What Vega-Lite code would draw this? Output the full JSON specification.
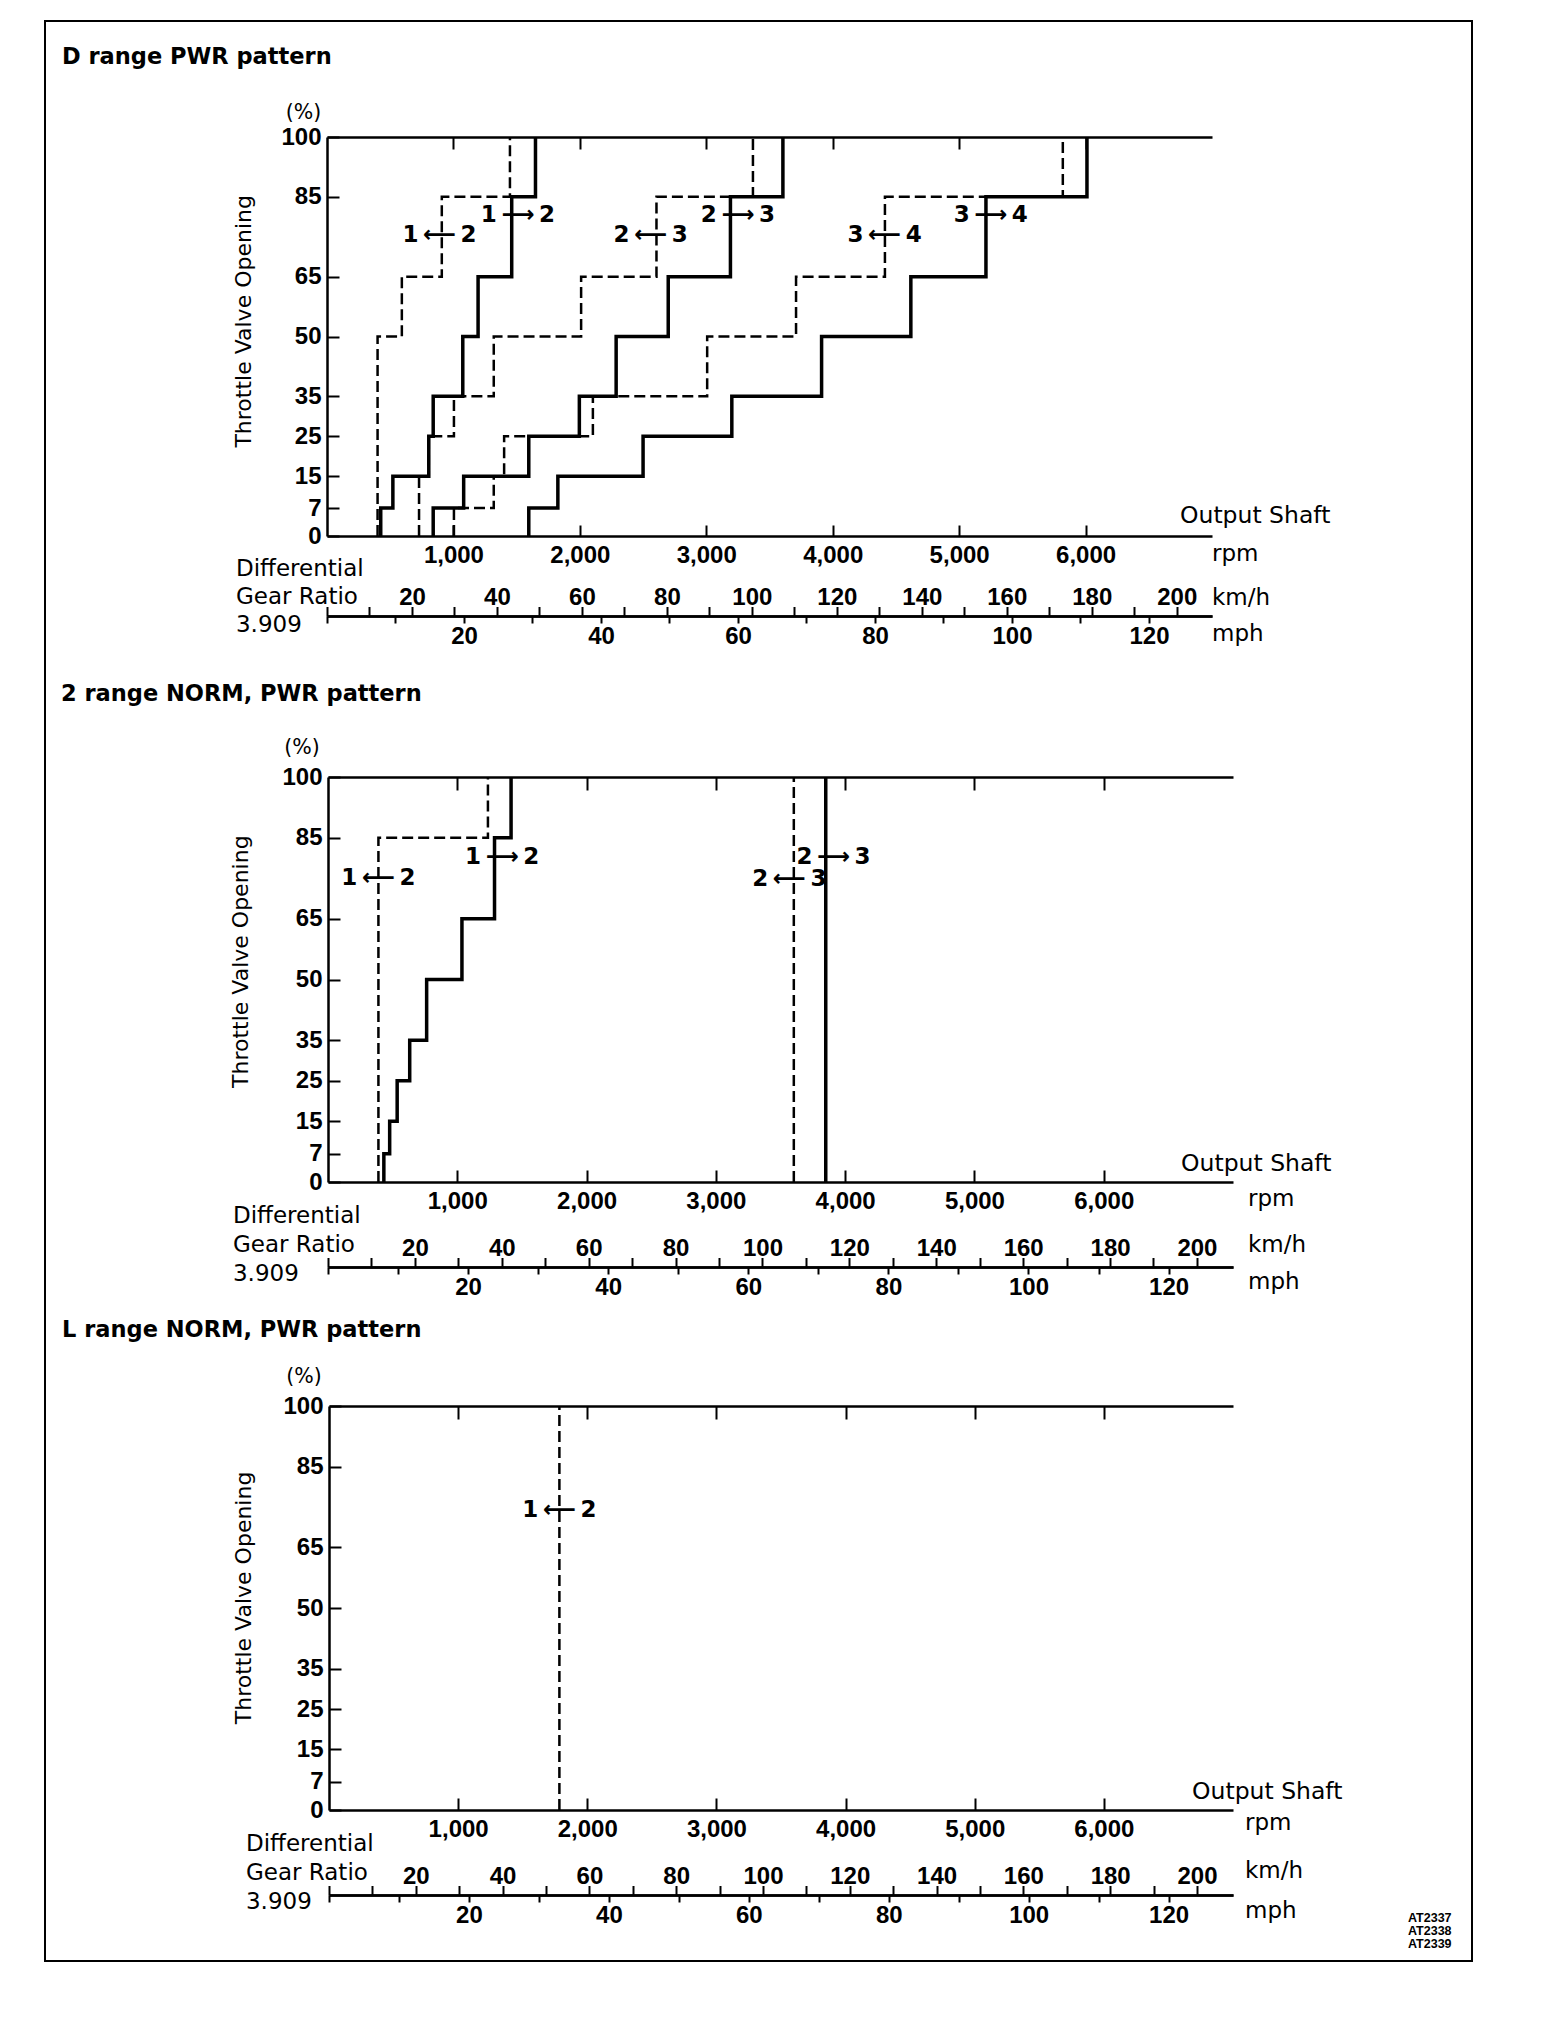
{
  "$schema": "https://vega.github.io/schema/vega-lite/v6.json",
  "width": 1427,
  "height": 1940,
  "autosize": "none",
  "padding": {"left": 45, "top": 21, "right": 96, "bottom": 57},
  "background": "white",
  "data": {"values": [{}]},
  "datasets": {
    "shifts": [
      {"panel": "D", "shift": "1-2", "kind": "up", "pct": 0, "rpm": 425},
      {"panel": "D", "shift": "1-2", "kind": "up", "pct": 7, "rpm": 521},
      {"panel": "D", "shift": "1-2", "kind": "up", "pct": 15, "rpm": 805},
      {"panel": "D", "shift": "1-2", "kind": "up", "pct": 25, "rpm": 840},
      {"panel": "D", "shift": "1-2", "kind": "up", "pct": 35, "rpm": 1074},
      {"panel": "D", "shift": "1-2", "kind": "up", "pct": 50, "rpm": 1195},
      {"panel": "D", "shift": "1-2", "kind": "up", "pct": 65, "rpm": 1461},
      {"panel": "D", "shift": "1-2", "kind": "up", "pct": 85, "rpm": 1649},
      {"panel": "D", "shift": "1-2", "kind": "up", "pct": 100, "rpm": 1649},
      {"panel": "D", "shift": "2-1", "kind": "down", "pct": 0, "rpm": 400},
      {"panel": "D", "shift": "2-1", "kind": "down", "pct": 50, "rpm": 592},
      {"panel": "D", "shift": "2-1", "kind": "down", "pct": 65, "rpm": 908},
      {"panel": "D", "shift": "2-1", "kind": "down", "pct": 85, "rpm": 1447},
      {"panel": "D", "shift": "2-1", "kind": "down", "pct": 100, "rpm": 1447},
      {"panel": "D", "shift": "2-3", "kind": "up", "pct": 0, "rpm": 840},
      {"panel": "D", "shift": "2-3", "kind": "up", "pct": 7, "rpm": 1081},
      {"panel": "D", "shift": "2-3", "kind": "up", "pct": 15, "rpm": 1596},
      {"panel": "D", "shift": "2-3", "kind": "up", "pct": 25, "rpm": 1996},
      {"panel": "D", "shift": "2-3", "kind": "up", "pct": 35, "rpm": 2287},
      {"panel": "D", "shift": "2-3", "kind": "up", "pct": 50, "rpm": 2699},
      {"panel": "D", "shift": "2-3", "kind": "up", "pct": 65, "rpm": 3191},
      {"panel": "D", "shift": "2-3", "kind": "up", "pct": 85, "rpm": 3606},
      {"panel": "D", "shift": "2-3", "kind": "up", "pct": 100, "rpm": 3606},
      {"panel": "D", "shift": "3-2", "kind": "down", "pct": 0, "rpm": 728},
      {"panel": "D", "shift": "3-2", "kind": "down", "pct": 15, "rpm": 805},
      {"panel": "D", "shift": "3-2", "kind": "down", "pct": 25, "rpm": 1004},
      {"panel": "D", "shift": "3-2", "kind": "down", "pct": 35, "rpm": 1319},
      {"panel": "D", "shift": "3-2", "kind": "down", "pct": 50, "rpm": 2010},
      {"panel": "D", "shift": "3-2", "kind": "down", "pct": 65, "rpm": 2606},
      {"panel": "D", "shift": "3-2", "kind": "down", "pct": 85, "rpm": 3369},
      {"panel": "D", "shift": "3-2", "kind": "down", "pct": 100, "rpm": 3369},
      {"panel": "D", "shift": "3-4", "kind": "up", "pct": 0, "rpm": 1596},
      {"panel": "D", "shift": "3-4", "kind": "up", "pct": 7, "rpm": 1826},
      {"panel": "D", "shift": "3-4", "kind": "up", "pct": 15, "rpm": 2500},
      {"panel": "D", "shift": "3-4", "kind": "up", "pct": 25, "rpm": 3202},
      {"panel": "D", "shift": "3-4", "kind": "up", "pct": 35, "rpm": 3912},
      {"panel": "D", "shift": "3-4", "kind": "up", "pct": 50, "rpm": 4618},
      {"panel": "D", "shift": "3-4", "kind": "up", "pct": 65, "rpm": 5212},
      {"panel": "D", "shift": "3-4", "kind": "up", "pct": 85, "rpm": 6011},
      {"panel": "D", "shift": "3-4", "kind": "up", "pct": 100, "rpm": 6011},
      {"panel": "D", "shift": "4-3", "kind": "down", "pct": 0, "rpm": 1004},
      {"panel": "D", "shift": "4-3", "kind": "down", "pct": 7, "rpm": 1319},
      {"panel": "D", "shift": "4-3", "kind": "down", "pct": 15, "rpm": 1401},
      {"panel": "D", "shift": "4-3", "kind": "down", "pct": 25, "rpm": 2103},
      {"panel": "D", "shift": "4-3", "kind": "down", "pct": 35, "rpm": 3007},
      {"panel": "D", "shift": "4-3", "kind": "down", "pct": 50, "rpm": 3710},
      {"panel": "D", "shift": "4-3", "kind": "down", "pct": 65, "rpm": 4413},
      {"panel": "D", "shift": "4-3", "kind": "down", "pct": 85, "rpm": 5820},
      {"panel": "D", "shift": "4-3", "kind": "down", "pct": 100, "rpm": 5820},
      {"panel": "2", "shift": "1-2", "kind": "up", "pct": 0, "rpm": 432},
      {"panel": "2", "shift": "1-2", "kind": "up", "pct": 7, "rpm": 477},
      {"panel": "2", "shift": "1-2", "kind": "up", "pct": 15, "rpm": 535},
      {"panel": "2", "shift": "1-2", "kind": "up", "pct": 25, "rpm": 632},
      {"panel": "2", "shift": "1-2", "kind": "up", "pct": 35, "rpm": 763},
      {"panel": "2", "shift": "1-2", "kind": "up", "pct": 50, "rpm": 1036},
      {"panel": "2", "shift": "1-2", "kind": "up", "pct": 65, "rpm": 1288},
      {"panel": "2", "shift": "1-2", "kind": "up", "pct": 85, "rpm": 1416},
      {"panel": "2", "shift": "1-2", "kind": "up", "pct": 100, "rpm": 1416},
      {"panel": "2", "shift": "2-1", "kind": "down", "pct": 0, "rpm": 390},
      {"panel": "2", "shift": "2-1", "kind": "down", "pct": 85, "rpm": 1237},
      {"panel": "2", "shift": "2-1", "kind": "down", "pct": 100, "rpm": 1237},
      {"panel": "2", "shift": "2-3", "kind": "up", "pct": 0, "rpm": 3850},
      {"panel": "2", "shift": "2-3", "kind": "up", "pct": 100, "rpm": 3850},
      {"panel": "2", "shift": "3-2", "kind": "down", "pct": 0, "rpm": 3603},
      {"panel": "2", "shift": "3-2", "kind": "down", "pct": 100, "rpm": 3603},
      {"panel": "L", "shift": "2-1", "kind": "down", "pct": 0, "rpm": 1784},
      {"panel": "L", "shift": "2-1", "kind": "down", "pct": 100, "rpm": 1784}
    ],
    "shiftLabels": [
      {"panel": "D", "label": "1\u2009⟶\u20092", "rpm": 1510, "pct": 80.4},
      {"panel": "D", "label": "1\u2009⟵\u20092", "rpm": 890, "pct": 75.4},
      {"panel": "D", "label": "2\u2009⟶\u20093", "rpm": 3250, "pct": 80.4},
      {"panel": "D", "label": "2\u2009⟵\u20093", "rpm": 2560, "pct": 75.4},
      {"panel": "D", "label": "3\u2009⟶\u20094", "rpm": 5250, "pct": 80.4},
      {"panel": "D", "label": "3\u2009⟵\u20094", "rpm": 4410, "pct": 75.4},
      {"panel": "2", "label": "1\u2009⟶\u20092", "rpm": 1347, "pct": 80.3},
      {"panel": "2", "label": "1\u2009⟵\u20092", "rpm": 390, "pct": 75},
      {"panel": "2", "label": "2\u2009⟶\u20093", "rpm": 3910, "pct": 80.2},
      {"panel": "2", "label": "2\u2009⟵\u20093", "rpm": 3568, "pct": 74.7},
      {"panel": "L", "label": "1\u2009⟵\u20092", "rpm": 1784, "pct": 74.2}
    ]
  },
  "config": {
    "view": {"stroke": "#000", "strokeWidth": 2},
    "axis": {
      "grid": false,
      "domainColor": "#000",
      "domainWidth": 2.5,
      "tickColor": "#000",
      "tickWidth": 2,
      "labelColor": "#000",
      "labelFont": "Liberation Sans",
      "labelFontWeight": "bold",
      "labelFontSize": 24,
      "labelOverlap": false,
      "labelFlush": false,
      "labelBound": false
    },
    "text": {"color": "#000", "font": "DejaVu Sans", "fontSize": 23}
  },
  "layer": [
    {
      "layer": [
        {
          "layer": [
            {
              "data": {"name": "shifts"},
              "transform": [{"filter": "datum.panel === 'D' && datum.kind === 'up'"}],
              "mark": {"type": "line", "interpolate": "step-before", "color": "#000", "strokeWidth": 3.5, "strokeJoin": "miter"},
              "encoding": {
                "x": {"field": "rpm", "type": "quantitative", "scale": {"domain": [0, 7000], "range": [282, 1167], "nice": false, "zero": false},
                  "axis": {"orient": "bottom", "offset": -1425, "values": [1000, 2000, 3000, 4000, 5000, 6000], "format": ",d", "tickSize": -11, "labelPadding": 18, "labelBaseline": "top", "title": null}},
                "y": {"field": "pct", "type": "quantitative", "scale": {"domain": [0, 100], "range": [515, 116], "nice": false, "zero": false},
                  "axis": {"orient": "left", "offset": -282, "values": [0, 7, 15, 25, 35, 50, 65, 85, 100], "tickSize": -12, "labelPadding": 18, "labelBaseline": "middle", "title": null}},
                "detail": {"field": "shift", "type": "nominal"},
                "order": {"field": "pct", "type": "quantitative"}
              }
            },
            {
              "data": {"name": "shifts"},
              "transform": [{"filter": "datum.panel === 'D' && datum.kind === 'down'"}],
              "mark": {"type": "line", "interpolate": "step-before", "color": "#000", "strokeWidth": 2.5, "strokeDash": [11, 5], "strokeJoin": "miter"},
              "encoding": {
                "x": {"field": "rpm", "type": "quantitative"},
                "y": {"field": "pct", "type": "quantitative"},
                "detail": {"field": "shift", "type": "nominal"},
                "order": {"field": "pct", "type": "quantitative"}
              }
            },
            {
              "data": {"name": "shiftLabels"},
              "transform": [{"filter": "datum.panel === 'D'"}],
              "mark": {"type": "text", "font": "DejaVu Sans", "fontWeight": "bold", "fontSize": 23, "align": "center", "baseline": "middle"},
              "encoding": {"x": {"field": "rpm", "type": "quantitative"}, "y": {"field": "pct", "type": "quantitative"}, "text": {"field": "label", "type": "nominal"}}
            },
            {"mark": {"type": "text", "text": "D range PWR pattern", "font": "DejaVu Sans", "fontWeight": "bold", "fontSize": 22.5, "align": "left", "baseline": "middle"},
             "encoding": {"x": {"datum": -2096, "type": "quantitative"}, "y": {"datum": 120.05, "type": "quantitative"}}},
            {"mark": {"type": "text", "text": "(%)", "fontSize": 20.5, "align": "center", "baseline": "middle"},
             "encoding": {"x": {"datum": -186, "type": "quantitative"}, "y": {"datum": 106, "type": "quantitative"}}},
            {"mark": {"type": "text", "text": "Throttle Valve Opening", "fontSize": 22, "angle": 270, "align": "center", "baseline": "middle"},
             "encoding": {"x": {"datum": -660, "type": "quantitative"}, "y": {"datum": 53.8, "type": "quantitative"}}},
            {"mark": {"type": "text", "text": "Output Shaft", "fontSize": 23.5, "align": "left", "baseline": "middle"},
             "encoding": {"x": {"datum": 6747, "type": "quantitative"}, "y": {"datum": 5.1, "type": "quantitative"}}},
            {"mark": {"type": "text", "text": "rpm", "align": "left", "baseline": "middle"},
             "encoding": {"x": {"datum": 7000, "type": "quantitative"}, "y": {"datum": -4.6, "type": "quantitative"}}},
            {"mark": {"type": "text", "text": "km/h", "align": "left", "baseline": "middle"},
             "encoding": {"x": {"datum": 7000, "type": "quantitative"}, "y": {"datum": -15.5, "type": "quantitative"}}},
            {"mark": {"type": "text", "text": "mph", "align": "left", "baseline": "middle"},
             "encoding": {"x": {"datum": 7000, "type": "quantitative"}, "y": {"datum": -24.6, "type": "quantitative"}}},
            {"mark": {"type": "text", "text": ["Differential", "Gear Ratio", "3.909"], "align": "left", "baseline": "top", "lineHeight": 28},
             "encoding": {"x": {"datum": -720, "type": "quantitative"}, "y": {"datum": -5.4, "type": "quantitative"}}}
          ]
        },
        {
          "mark": {"type": "point", "opacity": 0},
          "encoding": {"x": {"datum": 0, "type": "quantitative", "scale": {"domain": [0, 7000], "range": [282, 1167], "nice": false, "zero": false},
            "axis": {"orient": "top", "offset": -116, "values": [1000, 2000, 3000, 4000, 5000, 6000], "tickSize": -12, "labels": false, "title": null}}}
        },
        {
          "mark": {"type": "point", "opacity": 0},
          "encoding": {"x": {"datum": 0, "type": "quantitative", "scale": {"domain": [0, 208.3], "range": [282, 1167], "nice": false, "zero": false},
            "axis": {"orient": "bottom", "offset": -1345, "values": [0, 10, 20, 30, 40, 50, 60, 70, 80, 90, 100, 110, 120, 130, 140, 150, 160, 170, 180, 190, 200], "tickSize": -9.5, "labelPadding": -2, "labelBaseline": "alphabetic", "labelExpr": "datum.value > 0 && datum.value % 20 === 0 ? datum.label : ''", "title": null}}}
        },
        {
          "mark": {"type": "point", "opacity": 0},
          "encoding": {"x": {"datum": 0, "type": "quantitative", "scale": {"domain": [0, 129.2], "range": [282, 1167], "nice": false, "zero": false},
            "axis": {"orient": "bottom", "offset": -1345, "values": [0, 10, 20, 30, 40, 50, 60, 70, 80, 90, 100, 110, 120], "tickSize": 7, "labelPadding": 1, "labelBaseline": "top", "labelExpr": "datum.value > 0 && datum.value % 20 === 0 ? datum.label : ''", "title": null}}}
        }
      ],
      "resolve": {"scale": {"x": "independent"}, "axis": {"x": "independent"}}
    },
    {
      "layer": [
        {
          "layer": [
            {
              "data": {"name": "shifts"},
              "transform": [{"filter": "datum.panel === '2' && datum.kind === 'up'"}],
              "mark": {"type": "line", "interpolate": "step-before", "color": "#000", "strokeWidth": 3.5, "strokeJoin": "miter"},
              "encoding": {
                "x": {"field": "rpm", "type": "quantitative", "scale": {"domain": [0, 7000], "range": [283, 1188], "nice": false, "zero": false},
                  "axis": {"orient": "bottom", "offset": -779, "values": [1000, 2000, 3000, 4000, 5000, 6000], "format": ",d", "tickSize": -12, "labelPadding": 19, "labelBaseline": "top", "title": null}},
                "y": {"field": "pct", "type": "quantitative", "scale": {"domain": [0, 100], "range": [1161, 756], "nice": false, "zero": false},
                  "axis": {"orient": "left", "offset": -283, "values": [0, 7, 15, 25, 35, 50, 65, 85, 100], "tickSize": -12, "labelPadding": 18, "labelBaseline": "middle", "title": null}},
                "detail": {"field": "shift", "type": "nominal"},
                "order": {"field": "pct", "type": "quantitative"}
              }
            },
            {
              "data": {"name": "shifts"},
              "transform": [{"filter": "datum.panel === '2' && datum.kind === 'down'"}],
              "mark": {"type": "line", "interpolate": "step-before", "color": "#000", "strokeWidth": 2.5, "strokeDash": [11, 5], "strokeJoin": "miter"},
              "encoding": {
                "x": {"field": "rpm", "type": "quantitative"},
                "y": {"field": "pct", "type": "quantitative"},
                "detail": {"field": "shift", "type": "nominal"},
                "order": {"field": "pct", "type": "quantitative"}
              }
            },
            {
              "data": {"name": "shiftLabels"},
              "transform": [{"filter": "datum.panel === '2'"}],
              "mark": {"type": "text", "font": "DejaVu Sans", "fontWeight": "bold", "fontSize": 23, "align": "center", "baseline": "middle"},
              "encoding": {"x": {"field": "rpm", "type": "quantitative"}, "y": {"field": "pct", "type": "quantitative"}, "text": {"field": "label", "type": "nominal"}}
            },
            {"mark": {"type": "text", "text": "2 range NORM, PWR pattern", "font": "DejaVu Sans", "fontWeight": "bold", "fontSize": 22.5, "align": "left", "baseline": "middle"},
             "encoding": {"x": {"datum": -2065, "type": "quantitative"}, "y": {"datum": 120.5, "type": "quantitative"}}},
            {"mark": {"type": "text", "text": "(%)", "fontSize": 20.5, "align": "center", "baseline": "middle"},
             "encoding": {"x": {"datum": -201, "type": "quantitative"}, "y": {"datum": 107.2, "type": "quantitative"}}},
            {"mark": {"type": "text", "text": "Throttle Valve Opening", "fontSize": 22, "angle": 270, "align": "center", "baseline": "middle"},
             "encoding": {"x": {"datum": -675, "type": "quantitative"}, "y": {"datum": 54.4, "type": "quantitative"}}},
            {"mark": {"type": "text", "text": "Output Shaft", "fontSize": 23.5, "align": "left", "baseline": "middle"},
             "encoding": {"x": {"datum": 6598, "type": "quantitative"}, "y": {"datum": 4.4, "type": "quantitative"}}},
            {"mark": {"type": "text", "text": "rpm", "align": "left", "baseline": "middle"},
             "encoding": {"x": {"datum": 7116, "type": "quantitative"}, "y": {"datum": -4.2, "type": "quantitative"}}},
            {"mark": {"type": "text", "text": "km/h", "align": "left", "baseline": "middle"},
             "encoding": {"x": {"datum": 7116, "type": "quantitative"}, "y": {"datum": -15.6, "type": "quantitative"}}},
            {"mark": {"type": "text", "text": "mph", "align": "left", "baseline": "middle"},
             "encoding": {"x": {"datum": 7116, "type": "quantitative"}, "y": {"datum": -24.8, "type": "quantitative"}}},
            {"mark": {"type": "text", "text": ["Differential", "Gear Ratio", "3.909"], "align": "left", "baseline": "top", "lineHeight": 29},
             "encoding": {"x": {"datum": -735, "type": "quantitative"}, "y": {"datum": -5.6, "type": "quantitative"}}}
          ]
        },
        {
          "mark": {"type": "point", "opacity": 0},
          "encoding": {"x": {"datum": 0, "type": "quantitative", "scale": {"domain": [0, 7000], "range": [283, 1188], "nice": false, "zero": false},
            "axis": {"orient": "top", "offset": -756, "values": [1000, 2000, 3000, 4000, 5000, 6000], "tickSize": -13, "labels": false, "title": null}}}
        },
        {
          "mark": {"type": "point", "opacity": 0},
          "encoding": {"x": {"datum": 0, "type": "quantitative", "scale": {"domain": [0, 208.3], "range": [283, 1188], "nice": false, "zero": false},
            "axis": {"orient": "bottom", "offset": -694, "values": [0, 10, 20, 30, 40, 50, 60, 70, 80, 90, 100, 110, 120, 130, 140, 150, 160, 170, 180, 190, 200], "tickSize": -9.5, "labelPadding": -2, "labelBaseline": "alphabetic", "labelExpr": "datum.value > 0 && datum.value % 20 === 0 ? datum.label : ''", "title": null}}}
        },
        {
          "mark": {"type": "point", "opacity": 0},
          "encoding": {"x": {"datum": 0, "type": "quantitative", "scale": {"domain": [0, 129.2], "range": [283, 1188], "nice": false, "zero": false},
            "axis": {"orient": "bottom", "offset": -694, "values": [0, 10, 20, 30, 40, 50, 60, 70, 80, 90, 100, 110, 120], "tickSize": 7, "labelPadding": 1, "labelBaseline": "top", "labelExpr": "datum.value > 0 && datum.value % 20 === 0 ? datum.label : ''", "title": null}}}
        }
      ],
      "resolve": {"scale": {"x": "independent"}, "axis": {"x": "independent"}}
    },
    {
      "layer": [
        {
          "layer": [
            {
              "data": {"name": "shifts"},
              "transform": [{"filter": "datum.panel === 'L'"}],
              "mark": {"type": "line", "interpolate": "step-before", "color": "#000", "strokeWidth": 2.5, "strokeDash": [11, 5], "strokeJoin": "miter"},
              "encoding": {
                "x": {"field": "rpm", "type": "quantitative", "scale": {"domain": [0, 7000], "range": [284, 1188], "nice": false, "zero": false},
                  "axis": {"orient": "bottom", "offset": -151, "values": [1000, 2000, 3000, 4000, 5000, 6000], "format": ",d", "tickSize": -12, "labelPadding": 19, "labelBaseline": "top", "title": null}},
                "y": {"field": "pct", "type": "quantitative", "scale": {"domain": [0, 100], "range": [1789, 1385], "nice": false, "zero": false},
                  "axis": {"orient": "left", "offset": -284, "values": [0, 7, 15, 25, 35, 50, 65, 85, 100], "tickSize": -12, "labelPadding": 18, "labelBaseline": "middle", "title": null}},
                "detail": {"field": "shift", "type": "nominal"},
                "order": {"field": "pct", "type": "quantitative"}
              }
            },
            {
              "data": {"name": "shiftLabels"},
              "transform": [{"filter": "datum.panel === 'L'"}],
              "mark": {"type": "text", "font": "DejaVu Sans", "fontWeight": "bold", "fontSize": 23, "align": "center", "baseline": "middle"},
              "encoding": {"x": {"field": "rpm", "type": "quantitative"}, "y": {"field": "pct", "type": "quantitative"}, "text": {"field": "label", "type": "nominal"}}
            },
            {"mark": {"type": "text", "text": "L range NORM, PWR pattern", "font": "DejaVu Sans", "fontWeight": "bold", "fontSize": 22.5, "align": "left", "baseline": "middle"},
             "encoding": {"x": {"datum": -2067, "type": "quantitative"}, "y": {"datum": 118.8, "type": "quantitative"}}},
            {"mark": {"type": "text", "text": "(%)", "fontSize": 20.5, "align": "center", "baseline": "middle"},
             "encoding": {"x": {"datum": -194, "type": "quantitative"}, "y": {"datum": 107.3, "type": "quantitative"}}},
            {"mark": {"type": "text", "text": "Throttle Valve Opening", "fontSize": 22, "angle": 270, "align": "center", "baseline": "middle"},
             "encoding": {"x": {"datum": -655, "type": "quantitative"}, "y": {"datum": 52.5, "type": "quantitative"}}},
            {"mark": {"type": "text", "text": "Output Shaft", "fontSize": 23.5, "align": "left", "baseline": "middle"},
             "encoding": {"x": {"datum": 6683, "type": "quantitative"}, "y": {"datum": 4.5, "type": "quantitative"}}},
            {"mark": {"type": "text", "text": "rpm", "align": "left", "baseline": "middle"},
             "encoding": {"x": {"datum": 7093, "type": "quantitative"}, "y": {"datum": -3.1, "type": "quantitative"}}},
            {"mark": {"type": "text", "text": "km/h", "align": "left", "baseline": "middle"},
             "encoding": {"x": {"datum": 7093, "type": "quantitative"}, "y": {"datum": -15.2, "type": "quantitative"}}},
            {"mark": {"type": "text", "text": "mph", "align": "left", "baseline": "middle"},
             "encoding": {"x": {"datum": 7093, "type": "quantitative"}, "y": {"datum": -25.1, "type": "quantitative"}}},
            {"mark": {"type": "text", "text": ["Differential", "Gear Ratio", "3.909"], "align": "left", "baseline": "top", "lineHeight": 29},
             "encoding": {"x": {"datum": -643, "type": "quantitative"}, "y": {"datum": -5.6, "type": "quantitative"}}},
            {"mark": {"type": "text", "text": ["AT2337", "AT2338", "AT2339"], "font": "Liberation Sans", "fontWeight": "bold", "fontSize": 12.5, "align": "left", "baseline": "top", "lineHeight": 13},
             "encoding": {"x": {"datum": 8355, "type": "quantitative"}, "y": {"datum": -25.2, "type": "quantitative"}}}
          ]
        },
        {
          "mark": {"type": "point", "opacity": 0},
          "encoding": {"x": {"datum": 0, "type": "quantitative", "scale": {"domain": [0, 7000], "range": [284, 1188], "nice": false, "zero": false},
            "axis": {"orient": "top", "offset": -1385, "values": [1000, 2000, 3000, 4000, 5000, 6000], "tickSize": -13, "labels": false, "title": null}}}
        },
        {
          "mark": {"type": "point", "opacity": 0},
          "encoding": {"x": {"datum": 0, "type": "quantitative", "scale": {"domain": [0, 208.3], "range": [284, 1188], "nice": false, "zero": false},
            "axis": {"orient": "bottom", "offset": -66, "values": [0, 10, 20, 30, 40, 50, 60, 70, 80, 90, 100, 110, 120, 130, 140, 150, 160, 170, 180, 190, 200], "tickSize": -9.5, "labelPadding": -2, "labelBaseline": "alphabetic", "labelExpr": "datum.value > 0 && datum.value % 20 === 0 ? datum.label : ''", "title": null}}}
        },
        {
          "mark": {"type": "point", "opacity": 0},
          "encoding": {"x": {"datum": 0, "type": "quantitative", "scale": {"domain": [0, 129.2], "range": [284, 1188], "nice": false, "zero": false},
            "axis": {"orient": "bottom", "offset": -66, "values": [0, 10, 20, 30, 40, 50, 60, 70, 80, 90, 100, 110, 120], "tickSize": 7, "labelPadding": 1, "labelBaseline": "top", "labelExpr": "datum.value > 0 && datum.value % 20 === 0 ? datum.label : ''", "title": null}}}
        }
      ],
      "resolve": {"scale": {"x": "independent"}, "axis": {"x": "independent"}}
    }
  ],
  "resolve": {"scale": {"x": "independent", "y": "independent"}, "axis": {"x": "independent", "y": "independent"}}
}
